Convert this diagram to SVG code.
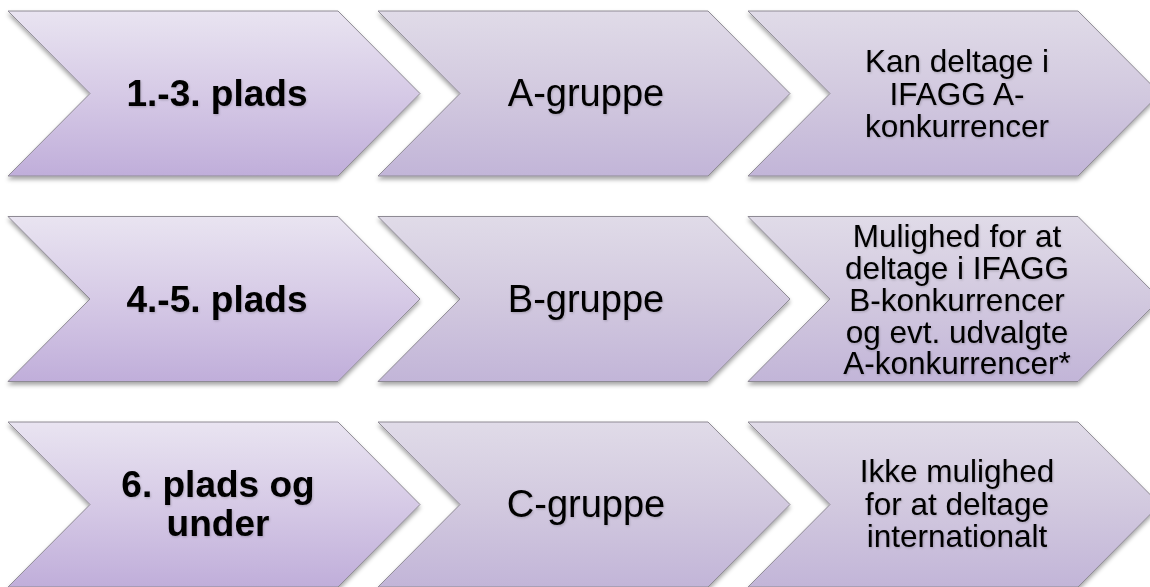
<svg xmlns="http://www.w3.org/2000/svg" xmlns:xlink="http://www.w3.org/1999/xlink" width="1150" height="587" viewBox="0 0 1150 587">
  <defs>
    <linearGradient id="gPurple" x1="0" y1="0" x2="0" y2="1">
      <stop offset="0" stop-color="#E9E4F1"/>
      <stop offset="0.5" stop-color="#D6CAE6"/>
      <stop offset="1" stop-color="#C0AEDA"/>
    </linearGradient>
    <linearGradient id="gGrey" x1="0" y1="0" x2="0" y2="1">
      <stop offset="0" stop-color="#E0DBE8"/>
      <stop offset="0.5" stop-color="#D2C9DF"/>
      <stop offset="1" stop-color="#C2B5D8"/>
    </linearGradient>
    <filter id="shadow" x="-5%" y="-5%" width="110%" height="115%">
      <feDropShadow dx="0" dy="3" stdDeviation="2" flood-color="#000" flood-opacity="0.35"/>
    </filter>
    <filter id="tshadow" x="-5%" y="-10%" width="110%" height="130%">
      <feDropShadow dx="0.8" dy="1.2" stdDeviation="1.2" flood-color="#000" flood-opacity="0.2"/>
    </filter>
    <path id="chev" d="M0,0 L330,0 L412,82.5 L330,165 L0,165 L82,82.5 Z"/>
  </defs>
  <style>
    .c1 { fill: url(#gPurple); stroke: #8E8A94; stroke-width: 1; filter: url(#shadow); }
    .c2 { fill: url(#gGrey); stroke: #8E8A94; stroke-width: 1; filter: url(#shadow); }
    text { font-family: "Liberation Sans", Arial, sans-serif; fill: #000; text-anchor: middle; filter: url(#tshadow); }
    .b { font-weight: bold; font-size: 37px; }
    .m { font-size: 38px; }
    .s { font-size: 31.5px; }
  </style>
  <rect width="1150" height="587" fill="#FFFFFF"/>

  <!-- Row 1 -->
  <g id="r1c1">
    <use xlink:href="#chev" class="c1" transform="translate(8,11)"/>
    <text class="b" x="217" y="106">1.-3. plads</text>
  </g>
  <g id="r1c2">
    <use xlink:href="#chev" class="c2" transform="translate(378,11)"/>
    <text class="m" x="586" y="106">A-gruppe</text>
  </g>
  <g id="r1c3">
    <use xlink:href="#chev" class="c2" transform="translate(748,11)"/>
    <text class="s" x="957" y="72">Kan deltage i</text>
    <text class="s" x="957" y="104.5">IFAGG A-</text>
    <text class="s" x="957" y="137">konkurrencer</text>
  </g>

  <!-- Row 2 -->
  <g id="r2c1">
    <use xlink:href="#chev" class="c1" transform="translate(8,216.5)"/>
    <text class="b" x="217" y="311.5">4.-5. plads</text>
  </g>
  <g id="r2c2">
    <use xlink:href="#chev" class="c2" transform="translate(378,216.5)"/>
    <text class="m" x="586" y="311.5">B-gruppe</text>
  </g>
  <g id="r2c3">
    <use xlink:href="#chev" class="c2" transform="translate(748,216.5)"/>
    <text class="s" x="957" y="247">Mulighed for at</text>
    <text class="s" x="957" y="279">deltage i IFAGG</text>
    <text class="s" x="957" y="311">B-konkurrencer</text>
    <text class="s" x="957" y="342.5">og evt. udvalgte</text>
    <text class="s" x="957" y="374">A-konkurrencer*</text>
  </g>

  <!-- Row 3 -->
  <g id="r3c1">
    <use xlink:href="#chev" class="c1" transform="translate(8,422)"/>
    <text class="b" x="218" y="497">6. plads og</text>
    <text class="b" x="218" y="536">under</text>
  </g>
  <g id="r3c2">
    <use xlink:href="#chev" class="c2" transform="translate(378,422)"/>
    <text class="m" x="586" y="517">C-gruppe</text>
  </g>
  <g id="r3c3">
    <use xlink:href="#chev" class="c2" transform="translate(748,422)"/>
    <text class="s" x="957" y="482">Ikke mulighed</text>
    <text class="s" x="957" y="514.5">for at deltage</text>
    <text class="s" x="957" y="547">internationalt</text>
  </g>
</svg>
